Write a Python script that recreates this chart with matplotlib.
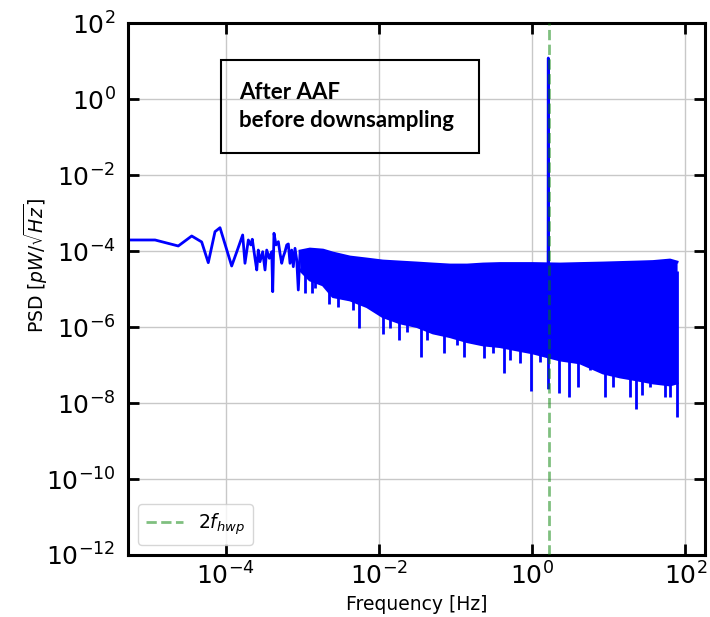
import numpy as np
import matplotlib
matplotlib.use("Agg")
import matplotlib.pyplot as plt
from matplotlib.patches import Rectangle

# lowest frequencies, individual points of the spectrum [Hz], [pW/sqrt(Hz)]
freq_low = [5.3e-6, 1.20e-5, 2.41e-5, 3.61e-5, 4.87e-5, 5.94e-5, 7.27e-5, 8.45e-5,
            1.20e-4, 1.40e-4, 1.67e-4, 1.79e-4, 1.98e-4, 2.13e-4, 2.23e-4, 2.42e-4,
            2.55e-4, 2.67e-4, 2.81e-4, 3.05e-4, 3.27e-4, 3.44e-4, 3.72e-4, 4.00e-4,
            4.12e-4, 4.28e-4, 4.55e-4, 4.88e-4, 5.13e-4, 5.40e-4, 5.66e-4, 5.96e-4,
            6.28e-4, 6.59e-4, 6.93e-4, 7.29e-4, 7.65e-4, 8.05e-4, 8.48e-4, 8.89e-4,
            9.36e-4]
psd_low = [1.97e-4, 1.97e-4, 1.37e-4, 2.51e-4, 1.75e-4, 4.98e-5, 3.26e-4, 4.15e-4,
           4.07e-5, 9.68e-5, 2.67e-4, 4.80e-5, 1.97e-4, 1.46e-4, 2.06e-4, 6.50e-5,
           3.20e-5, 1.07e-4, 5.29e-5, 9.68e-5, 3.20e-5, 1.07e-4, 6.50e-5, 9.68e-5,
           8.57e-6, 2.96e-4, 1.46e-4, 1.78e-4, 8.80e-5, 4.80e-5, 7.16e-5, 9.68e-5,
           1.46e-4, 1.55e-4, 4.80e-5, 1.07e-4, 3.90e-5, 1.19e-4, 5.86e-5, 9.5e-6,
           8.80e-5]

# dense part of the spectrum: upper and lower edge of the noise band
band_freq = [9.36e-4, 1.26e-3, 1.87e-3, 2.52e-3, 4.21e-3, 7.01e-3, 1.13e-2, 1.89e-2,
             3.16e-2, 5.10e-2, 8.51e-2, 0.142, 0.229, 0.382, 0.637, 1.03, 2.32, 4.23,
             8.45, 14.1, 23.5, 38.0, 63.3, 78.2]
band_top = [1.01e-4, 1.14e-4, 1.07e-4, 8.95e-5, 7.03e-5, 6.22e-5, 5.52e-5, 5.19e-5,
            4.89e-5, 4.60e-5, 4.33e-5, 4.33e-5, 4.60e-5, 4.74e-5, 4.74e-5, 4.74e-5,
            4.60e-5, 4.74e-5, 4.89e-5, 5.04e-5, 5.19e-5, 5.35e-5, 5.86e-5, 5.19e-5]
band_bottom = [3.19e-5, 1.74e-5, 1.29e-5, 6.34e-6, 5.18e-6, 3.45e-6, 1.88e-6, 1.29e-6,
               1.03e-6, 7.01e-7, 5.60e-7, 4.14e-7, 3.39e-7, 3.06e-7, 2.50e-7, 2.08e-7,
               1.36e-7, 1.14e-7, 6.19e-8, 4.86e-8, 4.06e-8, 3.38e-8, 2.99e-8, 3.38e-8]

# deep single dips below the band
spike_freq = [1.09e-3, 1.34e-3, 1.47e-3, 2.24e-3, 2.93e-3, 4.60e-3, 5.52e-3, 8.15e-3,
              1.13e-2, 1.40e-2, 1.84e-2, 2.33e-2, 3.56e-2, 4.26e-2, 7.10e-2, 0.105,
              0.129, 0.180, 0.236, 0.310, 0.431, 0.516, 0.697, 0.970, 1.27, 2.25,
              3.04, 3.99, 5.72, 8.97, 11.4, 19.0, 22.8, 27.3, 34.7, 54.5, 63.3, 78.2]
spike_psd = [7.92e-6, 7.92e-6, 1.07e-5, 4.06e-6, 3.39e-6, 2.82e-6, 9.48e-7, 2.82e-6,
             6.59e-7, 9.48e-7, 4.58e-7, 7.44e-7, 1.64e-7, 4.58e-7, 2.08e-7, 3.39e-7,
             1.64e-7, 3.82e-7, 1.54e-7, 2.08e-7, 6.19e-8, 1.36e-7, 1.14e-7, 2.08e-8,
             1.21e-7, 1.84e-8, 1.45e-8, 2.65e-8, 7.43e-8, 1.45e-8, 2.65e-8, 1.45e-8,
             6.98e-9, 1.63e-8, 2.65e-8, 1.45e-8, 1.45e-8, 4.31e-9]

# line at twice the HWP frequency
peak_freq = [1.62, 1.63, 1.64]
peak_psd = [4.7e-5, 12.2, 2.5e-8]
f2hwp = 1.65

fig = plt.figure(figsize=(7.1, 6.17), dpi=100)
ax = fig.add_axes([128 / 710, 1 - 555 / 617, 577 / 710, 531.7 / 617])

blue = (0, 0, 1)
lw = 2.0
ax.plot(freq_low, psd_low, color=blue, lw=lw, zorder=2)
ax.fill_between(band_freq, band_bottom, band_top, color=blue, lw=0, zorder=2)
ax.plot(band_freq, band_top, color=blue, lw=lw, zorder=2)
ax.plot(band_freq, band_bottom, color=blue, lw=lw, zorder=2)
ax.vlines(spike_freq, spike_psd, 3e-5, color=blue, lw=lw, zorder=2)
ax.plot(peak_freq, peak_psd, color=blue, lw=lw, zorder=2)

ax.axvline(f2hwp, color='g', ls='--', lw=2, alpha=0.5, zorder=3,
           label=r'2$f_{hwp}$')

ax.set_xscale('log')
ax.set_yscale('log')
ax.set_xlim(5.32e-6, 181)
ax.set_ylim(1e-12, 1e2)
ax.set_xticks([1e-4, 1e-2, 1e0, 1e2])
ax.set_yticks([1e-12, 1e-10, 1e-8, 1e-6, 1e-4, 1e-2, 1e0, 1e2])
ax.minorticks_off()

ax.grid(True, color='#c8c8c8', lw=1)
ax.set_axisbelow(True)
for s in ax.spines.values():
    s.set_linewidth(2.2)
ax.tick_params(which='major', direction='in', length=8, width=2,
               top=True, right=True, labelsize=18)
ax.tick_params(axis='y', pad=9)
ax.tick_params(axis='x', pad=5)

ax.set_xlabel('Frequency [Hz]', fontsize=13.5)
ax.set_ylabel(r'PSD [$pW/\sqrt{Hz}$]', fontsize=13.5)
ax.yaxis.set_label_coords(-0.135, 0.545)

ax.add_patch(Rectangle((0.161, 0.756), 0.447, 0.175, transform=ax.transAxes,
                       fill=False, ec='black', lw=1.5, zorder=5))
ax.text(0.192, 0.858, 'After AAF', transform=ax.transAxes, fontsize=16,
        fontweight='bold', family='Lato', va='baseline', zorder=6)
ax.text(0.192, 0.805, 'before downsampling', transform=ax.transAxes, fontsize=16,
        fontweight='bold', family='Lato', va='baseline', zorder=6)

ax.legend(loc='lower left', fontsize=13.5, borderaxespad=0.55)

fig.savefig('out.png', dpi=100)
